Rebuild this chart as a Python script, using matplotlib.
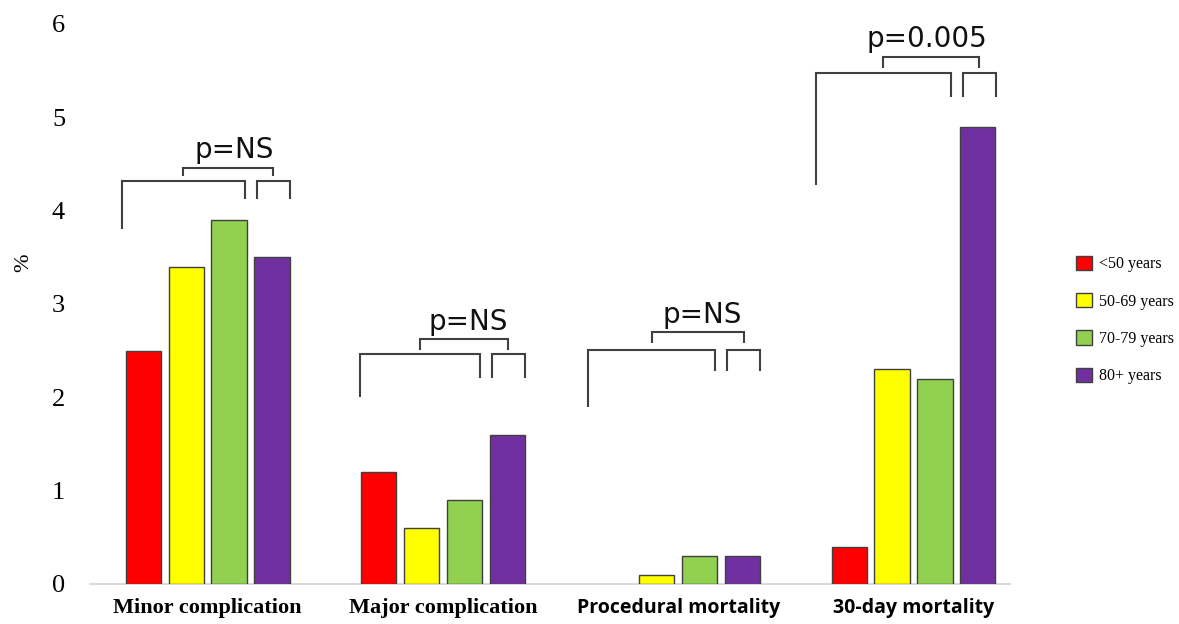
import matplotlib
matplotlib.use("Agg")
import matplotlib.pyplot as plt
from matplotlib.patches import Patch
import numpy as np

categories = ["Minor complication", "Major complication", "Procedural mortality", "30-day mortality"]
series_labels = ["<50 years", "50-69 years", "70-79 years", "80+ years"]
under50 = [2.5, 1.2, 0.0, 0.4]
age50_69 = [3.4, 0.6, 0.1, 2.3]
age70_79 = [3.9, 0.9, 0.3, 2.2]
age80plus = [3.5, 1.6, 0.3, 4.9]
p_labels = ["p=NS", "p=NS", "p=NS", "p=0.005"]
yticks = [0, 1, 2, 3, 4, 5, 6]

colors = ["#FF0000", "#FFFF00", "#92D050", "#7030A0"]
edge = "#404040"

fig = plt.figure(figsize=(11.79, 6.24), dpi=100)
ax = fig.add_axes([90/1179, 40/624, 920/1179, 560/624])

x = np.arange(len(categories))
step = 0.182
width = 0.15
series = [under50, age50_69, age70_79, age80plus]
for i, (vals, c, lab) in enumerate(zip(series, colors, series_labels)):
    ecs = [edge if v > 0 else "none" for v in vals]
    ax.bar(x + (i - 1.5) * step, vals, width=width, color=c, edgecolor=ecs,
           linewidth=1.0, label=lab, zorder=3)

ax.set_xlim(-0.50, 3.41)
ax.set_ylim(0, 6)
ax.set_yticks(yticks)
ax.set_yticklabels([str(t) for t in yticks], fontsize=19, family="Liberation Serif")
ax.tick_params(axis="y", length=0, pad=18)
ax.tick_params(axis="x", length=0, pad=10)
ax.set_xticks(x)
ax.set_xticklabels(categories)
fonts = [("Liberation Serif", 16), ("Liberation Serif", 16), ("Open Sans", 14), ("Open Sans", 14)]
for t, (fam, fs) in zip(ax.get_xticklabels(), fonts):
    t.set_family(fam)
    t.set_fontsize(fs)
    t.set_fontweight("bold")

for s in ["left", "right", "top"]:
    ax.spines[s].set_visible(False)
ax.spines["bottom"].set_color("#d9d9d9")
ax.spines["bottom"].set_linewidth(1.5)

fig.text(24/1179, 1 - 263/624, "%", rotation=90, ha="center", va="center",
         family="Liberation Serif", fontsize=16)

# significance brackets (per group)
px = 1 / 235.3
big_left = [-86 * px, -83 * px, -90 * px, -98 * px]
big_right = 37 * px
small_left = 49 * px
small_right = 82 * px
top_y = [4.32, 2.46, 2.51, 5.47]
left_bottom = [3.80, 2.00, 1.90, 4.28]
right_bottom = [4.12, 2.21, 2.28, 5.22]
upper_y = [4.46, 2.62, 2.70, 5.65]
upper_bottom = [4.37, 2.51, 2.58, 5.53]
text_dx = [6 * px, 4 * px, 4 * px, -4 * px]

lk = dict(color="#404040", lw=1.5, zorder=4, solid_capstyle="butt", solid_joinstyle="miter")
for g in range(len(categories)):
    c = x[g]
    bl, br = c + big_left[g], c + big_right
    sl, sr = c + small_left, c + small_right
    ax.plot([bl, bl, br, br], [left_bottom[g], top_y[g], top_y[g], right_bottom[g]], **lk)
    ax.plot([sl, sl, sr, sr], [right_bottom[g], top_y[g], top_y[g], right_bottom[g]], **lk)
    ul, ur = (bl + br) / 2, (sl + sr) / 2
    ax.plot([ul, ul, ur, ur], [upper_bottom[g], upper_y[g], upper_y[g], upper_bottom[g]], **lk)
    ax.text((ul + ur) / 2 + text_dx[g], upper_y[g] + 0.1, p_labels[g], ha="center", va="baseline",
            fontsize=20, family="DejaVu Sans", color="#111111")

handles = [Patch(facecolor=c, edgecolor=edge, linewidth=1.0) for c in colors]
leg = fig.legend(handles, series_labels, loc="center left", bbox_to_anchor=(1062/1179, 1 - 320/624),
                 frameon=False, prop={"family": "Liberation Serif", "size": 11.5},
                 handlelength=1.0, handleheight=1.0, handletextpad=0.4, labelspacing=1.3)

fig.savefig("out.png", dpi=100)
